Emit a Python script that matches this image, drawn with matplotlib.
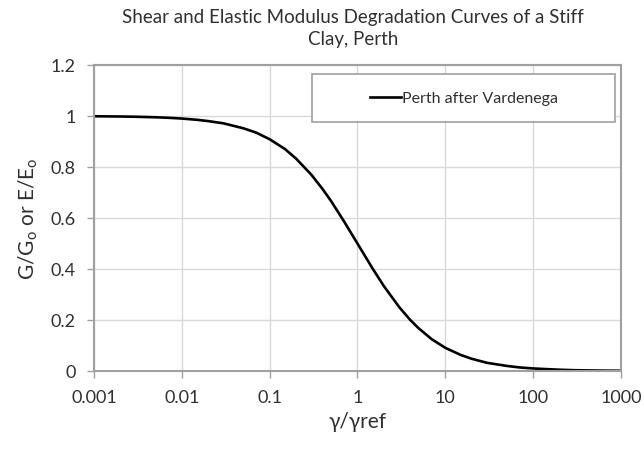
import matplotlib.pyplot as plt
from matplotlib.patches import Rectangle

# strain ratio gamma/gamma_ref and normalised modulus
strain_ratio = [0.001, 0.002, 0.003, 0.005, 0.007, 0.01, 0.015, 0.02, 0.03, 0.05, 0.07,
                0.1, 0.15, 0.2, 0.3, 0.4, 0.5, 0.7, 1, 1.5, 2, 3, 4, 5, 7, 10, 15, 20,
                30, 50, 70, 100, 150, 200, 300, 500, 700, 1000]
modulus_ratio = [0.999, 0.998, 0.997, 0.995, 0.993, 0.990, 0.985, 0.980, 0.971, 0.952,
                 0.935, 0.909, 0.870, 0.833, 0.769, 0.714, 0.667, 0.588, 0.500, 0.400,
                 0.333, 0.250, 0.200, 0.167, 0.125, 0.091, 0.063, 0.048, 0.032, 0.020,
                 0.014, 0.010, 0.007, 0.005, 0.003, 0.002, 0.0014, 0.001]
series_name = "Perth after Vardenega"
x_ticks = [0.001, 0.01, 0.1, 1, 10, 100, 1000]
x_ticklabels = ["0.001", "0.01", "0.1", "1", "10", "100", "1000"]
y_ticks = [0, 0.2, 0.4, 0.6, 0.8, 1, 1.2]
y_ticklabels = ["0", "0.2", "0.4", "0.6", "0.8", "1", "1.2"]

plt.rcParams['font.family'] = ['Lato', 'DejaVu Sans']
text_color = '#303030'

fig = plt.figure(figsize=(6.44, 4.52), dpi=100, facecolor='w')
ax = fig.add_axes([0.146, 0.177, 0.818, 0.677])

ax.plot(strain_ratio, modulus_ratio, color='black', lw=1.9, label=series_name,
        solid_joinstyle='round')

ax.set_xscale('log')
ax.set_xlim(0.001, 1000)
ax.set_ylim(0, 1.2)
ax.set_xticks(x_ticks)
ax.set_xticklabels(x_ticklabels)
ax.set_yticks(y_ticks)
ax.set_yticklabels(y_ticklabels)
ax.minorticks_off()
ax.tick_params(labelsize=13, colors='#a0a0a0', labelcolor=text_color,
               length=5, width=1, pad=8)
ax.grid(True, color='#d9d9d9', lw=1)
ax.set_axisbelow(True)
for side in ax.spines.values():
    side.set_color('#a0a0a0')
    side.set_linewidth(1.5)

ax.set_xlabel('γ/γref', fontsize=15, color=text_color, labelpad=4)
ax.set_ylabel(r'G/G$_\mathregular{o}$ or E/E$_\mathregular{o}$', fontsize=15,
              color=text_color, labelpad=8)
fig.text(0.548, 0.936, 'Shear and Elastic Modulus Degradation Curves of a Stiff\nClay, Perth',
         fontsize=13.5, color=text_color, ha='center', va='center', linespacing=1.35)

# legend box drawn separately so the entry sits centred in a wide frame
ax.add_patch(Rectangle((0.414, 0.814), 0.575, 0.157, transform=ax.transAxes,
                       facecolor='white', edgecolor='#a0a0a0', lw=1.2, zorder=4))
leg = ax.legend(loc='center', bbox_to_anchor=(0.703, 0.892), fontsize=11.5,
                handlelength=1.9, handletextpad=0.1, frameon=False)
leg.set_zorder(5)
for t in leg.get_texts():
    t.set_color(text_color)

plt.savefig('out.png', dpi=100)
